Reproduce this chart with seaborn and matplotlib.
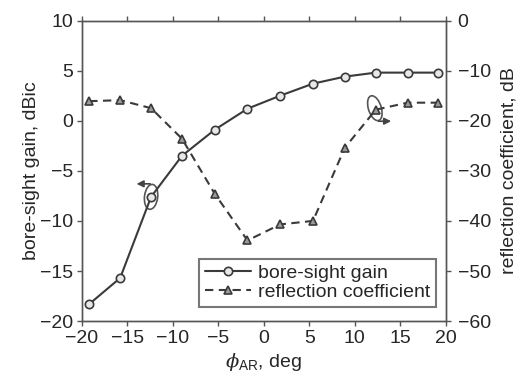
import matplotlib
matplotlib.use("Agg")
import matplotlib.pyplot as plt
import seaborn as sns
import pandas as pd
from matplotlib.patches import Ellipse

# Data
phi_deg = [-19.2, -15.8, -12.4, -9.0, -5.4, -1.8, 1.8, 5.4, 8.9, 12.3, 15.8, 19.1]
gain_dbic = [-18.3, -15.7, -7.6, -3.5, -0.9, 1.2, 2.5, 3.7, 4.4, 4.8, 4.8, 4.8]
refl_db = [-16.1, -15.9, -17.5, -23.6, -34.6, -43.9, -40.7, -40.0, -25.4, -17.8, -16.4, -16.4]
x_ticks = [-20, -15, -10, -5, 0, 5, 10, 15, 20]
left_ticks = [-20, -15, -10, -5, 0, 5, 10]
right_ticks = [-60, -50, -40, -30, -20, -10, 0]

sns.set_style("ticks")
plt.rcParams['font.family'] = ['Liberation Sans', 'DejaVu Sans']
plt.rcParams['mathtext.fontset'] = 'custom'
plt.rcParams['mathtext.rm'] = 'Liberation Sans'
plt.rcParams['mathtext.it'] = 'DejaVu Serif:italic'

df = pd.DataFrame({"phi": phi_deg, "gain": gain_dbic, "refl": refl_db})

fig = plt.figure(figsize=(5.22, 3.80), dpi=100)
ax = fig.add_axes([0.157, 0.155, 0.697, 0.791])
ax2 = ax.twinx()

lc = '#3a3a3a'
sns.lineplot(data=df, x="phi", y="gain", ax=ax, color=lc, lw=1.5, marker='o',
             markersize=6, markerfacecolor='#e8e8e8', markeredgecolor=lc,
             markeredgewidth=1.2, label='bore-sight gain', legend=False)
sns.lineplot(data=df, x="phi", y="refl", ax=ax2, color=lc, lw=1.5, marker='^',
             markersize=6, markerfacecolor='#9a9a9a', markeredgecolor=lc,
             markeredgewidth=1.2, label='reflection coefficient', legend=False,
             linestyle=(0, (4, 2.6)))

ax.set_xlim(-20, 20)
ax.set_ylim(-20, 10)
ax2.set_ylim(-60, 0)
ax.set_xticks(x_ticks)
ax.set_xticklabels([str(v).replace('-', '\u2212') for v in x_ticks])
ax.set_yticks(left_ticks)
ax.set_yticklabels([str(v).replace('-', '\u2212') for v in left_ticks])
ax2.set_yticks(right_ticks)
ax2.set_yticklabels([str(v).replace('-', '\u2212') for v in right_ticks])

fs = 14
ax.tick_params(axis='both', labelsize=fs, direction='out', length=3.5, width=1, color='#555555', pad=3)
ax.tick_params(axis='x', top=True, labeltop=False)
ax2.tick_params(axis='y', labelsize=fs, direction='out', length=3.5, width=1, color='#555555', pad=5)
for a in (ax, ax2):
    for s in a.spines.values():
        s.set_visible(True)
        s.set_color('#555555')
        s.set_linewidth(1.0)

ax.set_xlabel(r'$\phi_{\mathrm{AR}}$, deg', fontsize=fs, labelpad=3)
ax.set_ylabel('bore-sight gain, dBic', fontsize=fs, labelpad=0)
ax2.set_ylabel('reflection coefficient, dB', fontsize=fs, labelpad=7)

# annotations: ellipses and arrows
e1 = Ellipse((-12.4, -7.6), width=1.45, height=2.5, angle=-8, fill=False, ec='#555555', lw=1.2)
ax.add_patch(e1)
ax.annotate('', xy=(-14.3, -6.3), xytext=(-12.2, -6.3),
            arrowprops=dict(arrowstyle='-|>', color='#444444', lw=1.2, mutation_scale=10))
e2 = Ellipse((12.2, -17.5), width=1.45, height=5.0, angle=8, fill=False, ec='#555555', lw=1.2)
ax2.add_patch(e2)
ax2.annotate('', xy=(14.3, -20.1), xytext=(12.3, -20.1),
             arrowprops=dict(arrowstyle='-|>', color='#444444', lw=1.2, mutation_scale=10))

h1, l1 = ax.get_legend_handles_labels()
h2, l2 = ax2.get_legend_handles_labels()
leg = ax.legend(h1 + h2, ['bore-sight gain', 'reflection coefficient'],
                loc='lower right', bbox_to_anchor=(0.974, 0.048), fontsize=fs,
                frameon=True, fancybox=False, edgecolor='#555555',
                borderpad=0.3, borderaxespad=0.0, handlelength=2.4, handletextpad=0.35,
                labelspacing=0.05)
leg.get_frame().set_linewidth(1.5)
ax.set_zorder(ax2.get_zorder() + 1)
ax.patch.set_visible(False)

fig.savefig('out.png', dpi=100)
